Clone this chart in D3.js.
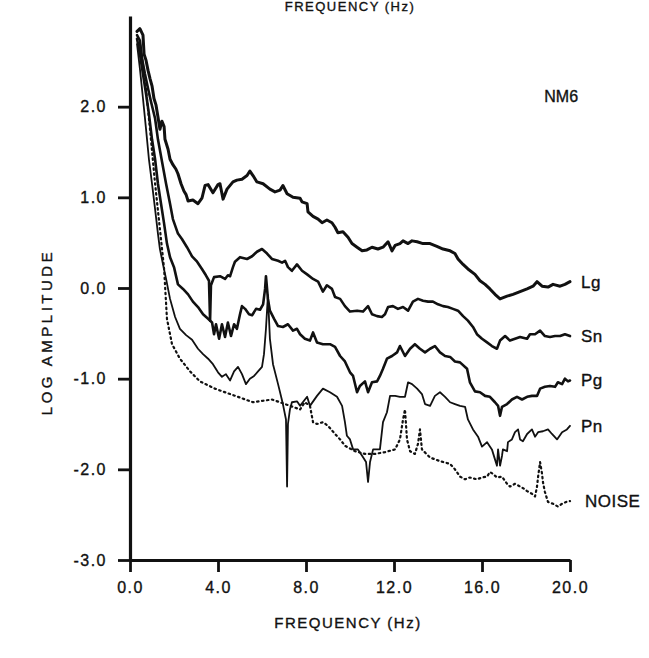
<!DOCTYPE html>
<html>
<head>
<meta charset="utf-8">
<script src="https://cdn.jsdelivr.net/npm/d3@7/dist/d3.min.js"></script>
<style>
  html, body { margin: 0; padding: 0; background: #fff; }
  svg { display: block; }
  text { font-family: "Liberation Sans", Arial, sans-serif; fill: #111; stroke: #111; stroke-width: 0.35px; }
</style>
</head>
<body>
<svg id="chart" width="649" height="658"></svg>
<script>
// Spectral amplitude (log) vs frequency for station NM6
const xTicks = [0, 4, 8, 12, 16, 20];
const yTicks = [2, 1, 0, -1, -2, -3];
const seriesNames = ["Lg", "Sn", "Pg", "Pn", "NOISE"];
const stationName = "NM6";

// [frequency Hz, log amplitude]
const lgData = [
  [0.32,2.83],[0.45,2.86],[0.59,2.79],[0.64,2.58],[0.73,2.51],[0.82,2.40],[0.91,2.31],[1.00,2.23],
  [1.09,2.09],[1.18,2.02],[1.27,1.89],[1.36,1.75],[1.45,1.84],[1.55,1.78],[1.59,1.64],[1.73,1.53],
  [1.82,1.42],[1.95,1.36],[2.09,1.31],[2.18,1.26],[2.32,1.15],[2.45,1.07],[2.55,1.03],[2.64,0.96],
  [2.86,0.97],[3.09,0.93],[3.27,0.99],[3.41,1.13],[3.55,1.14],[3.77,1.05],[4.00,1.14],[4.09,1.15],
  [4.23,0.98],[4.41,1.09],[4.68,1.17],[4.86,1.19],[5.09,1.20],[5.32,1.24],[5.45,1.29],[5.59,1.24],
  [5.77,1.17],[6.05,1.15],[6.36,1.09],[6.59,1.06],[6.82,1.08],[6.95,1.13],[7.14,1.04],[7.41,1.00],
  [7.73,0.99],[7.82,0.95],[8.05,0.93],[8.09,0.84],[8.32,0.79],[8.55,0.76],[8.73,0.72],[8.95,0.75],
  [9.18,0.72],[9.32,0.67],[9.45,0.61],[9.68,0.62],[9.91,0.56],[10.09,0.49],[10.32,0.45],[10.55,0.41],
  [10.77,0.42],[11.00,0.45],[11.27,0.43],[11.50,0.45],[11.73,0.51],[11.91,0.41],[12.05,0.47],[12.27,0.49],
  [12.41,0.52],[12.64,0.49],[12.82,0.52],[13.05,0.51],[13.32,0.49],[13.64,0.49],[13.95,0.46],[14.23,0.43],
  [14.55,0.41],[14.77,0.38],[14.91,0.32],[15.14,0.26],[15.36,0.21],[15.68,0.15],[15.91,0.08],[16.14,0.04],
  [16.36,-0.01],[16.59,-0.07],[16.82,-0.12],[17.14,-0.09],[17.41,-0.07],[17.73,-0.04],[18.05,-0.01],[18.32,0.02],
  [18.50,0.07],[18.73,0.02],[19.00,0.01],[19.23,0.04],[19.55,0.02],[19.77,0.04],[20.00,0.07]
];

const snData = [
  [0.32,2.79],[0.45,2.73],[0.55,2.53],[0.68,2.36],[0.82,2.20],[0.95,2.06],[1.14,1.87],[1.27,1.64],
  [1.45,1.40],[1.64,1.15],[1.82,0.93],[1.95,0.76],[2.18,0.60],[2.36,0.54],[2.59,0.45],[2.82,0.35],
  [3.05,0.29],[3.27,0.21],[3.45,0.14],[3.59,0.08],[3.64,-0.36],[3.68,0.03],[3.82,0.12],[4.09,0.13],
  [4.32,0.10],[4.45,0.14],[4.55,0.13],[4.68,0.23],[4.77,0.29],[5.00,0.34],[5.32,0.32],[5.55,0.35],
  [5.77,0.40],[6.00,0.43],[6.23,0.38],[6.45,0.32],[6.73,0.30],[6.91,0.28],[7.05,0.30],[7.18,0.23],
  [7.36,0.19],[7.59,0.26],[7.82,0.19],[8.05,0.15],[8.32,0.10],[8.55,0.07],[8.77,-0.04],[8.95,0.03],
  [9.18,-0.01],[9.32,-0.10],[9.55,-0.12],[9.77,-0.20],[10.00,-0.26],[10.32,-0.25],[10.59,-0.26],[10.82,-0.20],
  [11.00,-0.29],[11.23,-0.31],[11.45,-0.32],[11.59,-0.29],[11.73,-0.21],[11.95,-0.20],[12.18,-0.23],[12.41,-0.21],
  [12.64,-0.25],[12.86,-0.15],[13.09,-0.12],[13.32,-0.14],[13.55,-0.15],[13.77,-0.15],[14.00,-0.18],[14.23,-0.20],
  [14.45,-0.21],[14.68,-0.23],[14.91,-0.25],[15.14,-0.31],[15.36,-0.36],[15.59,-0.43],[15.77,-0.51],[16.00,-0.56],
  [16.23,-0.60],[16.45,-0.64],[16.68,-0.67],[16.82,-0.58],[17.05,-0.53],[17.27,-0.58],[17.50,-0.56],[17.73,-0.54],
  [18.05,-0.56],[18.18,-0.51],[18.41,-0.51],[18.64,-0.47],[18.86,-0.53],[19.09,-0.54],[19.32,-0.53],[19.55,-0.53],
  [19.77,-0.51],[20.00,-0.53]
];

const pgData = [
  [0.32,2.75],[0.45,2.58],[0.59,2.36],[0.73,2.14],[0.86,1.92],[1.00,1.64],[1.14,1.42],[1.27,1.15],
  [1.41,0.93],[1.55,0.71],[1.68,0.49],[1.82,0.34],[2.00,0.23],[2.18,0.04],[2.41,-0.01],[2.64,-0.07],
  [2.86,-0.15],[3.09,-0.21],[3.32,-0.29],[3.55,-0.34],[3.73,-0.38],[3.82,-0.51],[3.91,-0.40],[4.05,-0.56],
  [4.18,-0.40],[4.32,-0.54],[4.45,-0.38],[4.59,-0.53],[4.73,-0.40],[4.86,-0.45],[5.00,-0.29],[5.09,-0.20],
  [5.23,-0.23],[5.41,-0.29],[5.55,-0.30],[5.73,-0.23],[5.91,-0.24],[6.05,-0.18],[6.14,-0.01],[6.18,0.13],
  [6.27,-0.12],[6.36,-0.25],[6.55,-0.34],[6.73,-0.42],[6.95,-0.43],[7.18,-0.40],[7.41,-0.47],[7.59,-0.45],
  [7.73,-0.51],[7.95,-0.56],[8.18,-0.58],[8.32,-0.49],[8.50,-0.60],[8.77,-0.62],[9.09,-0.62],[9.32,-0.65],
  [9.55,-0.75],[9.77,-0.81],[10.00,-0.93],[10.14,-0.97],[10.32,-1.15],[10.45,-1.08],[10.68,-1.03],[10.82,-1.15],
  [11.00,-1.04],[11.23,-1.03],[11.36,-0.97],[11.50,-0.89],[11.68,-0.78],[11.91,-0.75],[12.14,-0.71],[12.27,-0.64],
  [12.50,-0.75],[12.73,-0.67],[12.95,-0.62],[13.18,-0.67],[13.41,-0.71],[13.64,-0.67],[13.86,-0.64],[14.09,-0.71],
  [14.32,-0.75],[14.55,-0.76],[14.77,-0.81],[15.00,-0.82],[15.32,-0.89],[15.45,-1.04],[15.68,-1.14],[15.91,-1.15],
  [16.14,-1.19],[16.36,-1.20],[16.59,-1.26],[16.73,-1.30],[16.82,-1.41],[16.91,-1.31],[17.14,-1.28],[17.36,-1.23],
  [17.59,-1.20],[17.82,-1.23],[18.05,-1.20],[18.27,-1.19],[18.50,-1.19],[18.64,-1.11],[18.86,-1.09],[19.09,-1.08],
  [19.32,-1.09],[19.45,-1.04],[19.64,-1.06],[19.77,-1.00],[19.91,-1.03],[20.00,-1.02]
];

const pnData = [
  [0.32,2.69],[0.45,2.42],[0.59,2.09],[0.73,1.75],[0.86,1.42],[1.00,1.15],[1.14,0.87],[1.27,0.60],
  [1.36,0.43],[1.50,0.26],[1.64,0.10],[1.82,-0.12],[2.05,-0.32],[2.27,-0.45],[2.55,-0.52],[2.82,-0.57],
  [3.09,-0.67],[3.32,-0.73],[3.55,-0.78],[3.77,-0.84],[4.00,-0.93],[4.18,-0.98],[4.36,-0.95],[4.55,-1.02],
  [4.73,-0.92],[4.91,-0.87],[5.09,-0.95],[5.27,-1.06],[5.45,-1.00],[5.64,-0.97],[5.82,-0.92],[6.00,-0.87],
  [6.09,-0.73],[6.18,-0.45],[6.27,-0.08],[6.36,-0.56],[6.50,-0.84],[6.73,-1.06],[6.95,-1.28],[7.09,-1.45],
  [7.14,-2.19],[7.18,-1.50],[7.27,-1.34],[7.36,-1.26],[7.59,-1.25],[7.73,-1.30],[8.05,-1.20],[8.18,-1.30],
  [8.50,-1.19],[8.77,-1.11],[9.09,-1.15],[9.41,-1.20],[9.64,-1.30],[9.77,-1.48],[9.86,-1.63],[10.00,-1.67],
  [10.14,-1.78],[10.36,-1.78],[10.55,-1.85],[10.73,-1.92],[10.82,-2.14],[10.91,-1.92],[11.05,-1.78],[11.36,-1.78],
  [11.50,-1.48],[11.68,-1.37],[11.82,-1.19],[12.05,-1.19],[12.27,-1.20],[12.50,-1.20],[12.64,-1.04],[12.82,-1.06],
  [13.05,-1.11],[13.27,-1.17],[13.41,-1.28],[13.64,-1.30],[13.86,-1.19],[14.09,-1.15],[14.32,-1.20],[14.55,-1.26],
  [14.77,-1.28],[15.00,-1.30],[15.23,-1.31],[15.36,-1.45],[15.59,-1.56],[15.82,-1.64],[16.00,-1.75],[16.23,-1.70],
  [16.45,-1.78],[16.59,-1.89],[16.68,-1.96],[16.73,-1.78],[16.82,-1.96],[16.91,-1.85],[16.95,-1.78],[17.14,-1.80],
  [17.18,-1.70],[17.36,-1.67],[17.50,-1.59],[17.64,-1.56],[17.73,-1.67],[17.86,-1.69],[18.05,-1.61],[18.27,-1.56],
  [18.41,-1.64],[18.55,-1.59],[18.77,-1.58],[19.00,-1.56],[19.18,-1.61],[19.41,-1.67],[19.64,-1.59],[19.86,-1.56],
  [20.00,-1.52]
];

const noiseData = [
  [0.45,2.69],[0.68,2.31],[0.91,1.75],[1.14,1.15],[1.36,0.65],[1.55,0.21],[1.68,-0.34],[1.91,-0.62],
  [2.27,-0.78],[2.73,-0.92],[3.18,-1.03],[3.86,-1.11],[4.55,-1.17],[5.59,-1.26],[6.45,-1.23],[7.05,-1.28],
  [7.73,-1.34],[7.95,-1.26],[8.18,-1.30],[8.32,-1.48],[8.50,-1.50],[8.77,-1.48],[9.00,-1.52],[9.32,-1.61],
  [9.55,-1.67],[9.77,-1.74],[10.23,-1.80],[10.68,-1.83],[11.14,-1.83],[11.59,-1.81],[12.05,-1.78],[12.27,-1.67],
  [12.41,-1.45],[12.50,-1.34],[12.59,-1.67],[12.73,-1.80],[12.95,-1.83],[13.09,-1.72],[13.18,-1.56],[13.27,-1.78],
  [13.64,-1.87],[14.09,-1.91],[14.55,-1.94],[14.77,-2.00],[15.00,-2.08],[15.23,-2.11],[15.45,-2.09],[15.77,-2.11],
  [16.00,-2.09],[16.23,-2.08],[16.36,-2.03],[16.50,-2.05],[16.68,-2.09],[16.91,-2.08],[17.14,-2.16],[17.27,-2.19],
  [17.50,-2.16],[17.82,-2.20],[18.05,-2.24],[18.27,-2.27],[18.41,-2.30],[18.50,-2.19],[18.55,-2.08],[18.64,-1.92],
  [18.73,-2.05],[18.77,-2.14],[18.86,-2.25],[19.00,-2.36],[19.23,-2.38],[19.45,-2.41],[19.64,-2.38],[19.82,-2.36],
  [20.00,-2.35]
];

const seriesData = [lgData, snData, pgData, pnData, noiseData];
const seriesWidth = [3, 2.6, 2.6, 1.8, 2.2];
const seriesDash = [null, null, null, null, "1.5,3.5"];

const svg = d3.select("#chart");

const x = d3.scaleLinear().domain([0, 20]).range([130, 570]);
const y = d3.scaleLinear().domain([-3, 3]).range([560, 16]);

// tick labels use a plain hyphen for negatives
const fmt = d => d3.format(".1f")(d).replace("\u2212", "-");

const yAxis = d3.axisLeft(y)
  .tickValues(yTicks)
  .tickSize(12)
  .tickSizeOuter(0)
  .tickPadding(11)
  .tickFormat(fmt);

const xAxis = d3.axisBottom(x)
  .tickValues(xTicks)
  .tickSize(12)
  .tickSizeOuter(0)
  .tickPadding(10)
  .tickFormat(fmt);

const gy = svg.append("g").attr("transform", `translate(${x(0)},0)`).call(yAxis);
const gx = svg.append("g").attr("transform", `translate(0,${y(-3)})`).call(xAxis);

[gy, gx].forEach(g => {
  g.select(".domain").attr("stroke", "#111").attr("stroke-width", 3.2);
  g.selectAll(".tick line").attr("stroke", "#111").attr("stroke-width", 2.8);
  g.selectAll(".tick text")
    .attr("fill", "#111")
    .style("font-family", "'Liberation Sans', Arial, sans-serif")
    .style("font-size", "16px")
    .style("letter-spacing", "1.5px");
});

// spectra
const line = d3.line().x(d => x(d[0])).y(d => y(d[1]));

seriesData.forEach((data, i) => {
  svg.append("path")
    .datum(data)
    .attr("d", line)
    .attr("fill", "none")
    .attr("stroke", "#111")
    .attr("stroke-width", seriesWidth[i])
    .attr("stroke-linejoin", "round")
    .attr("stroke-linecap", "round")
    .attr("stroke-dasharray", seriesDash[i]);

  const last = data[data.length - 1];
  svg.append("text")
    .attr("x", x(last[0]) + (i === 4 ? 15 : 11))
    .attr("y", y(last[1]))
    .attr("dy", "0.35em")
    .style("font-size", "17px")
    .style("letter-spacing", "0.5px")
    .text(seriesNames[i]);
});

// station name
svg.append("text")
  .attr("x", x(19.6))
  .attr("y", y(2.11))
  .attr("text-anchor", "middle")
  .attr("dy", "0.35em")
  .style("font-size", "16px")
  .text(stationName);

// axis titles
svg.append("text")
  .attr("x", 348)
  .attr("y", 628)
  .attr("text-anchor", "middle")
  .style("font-size", "15px")
  .style("letter-spacing", "1.5px")
  .text("FREQUENCY (Hz)");

svg.append("text")
  .attr("x", 350)
  .attr("y", 11)
  .attr("text-anchor", "middle")
  .style("font-size", "13px")
  .style("letter-spacing", "1.5px")
  .text("FREQUENCY (Hz)");

svg.append("text")
  .attr("transform", "translate(52,332) rotate(-90)")
  .attr("text-anchor", "middle")
  .style("font-size", "15px")
  .style("letter-spacing", "3.5px")
  .text("LOG AMPLITUDE");
</script>
</body>
</html>
